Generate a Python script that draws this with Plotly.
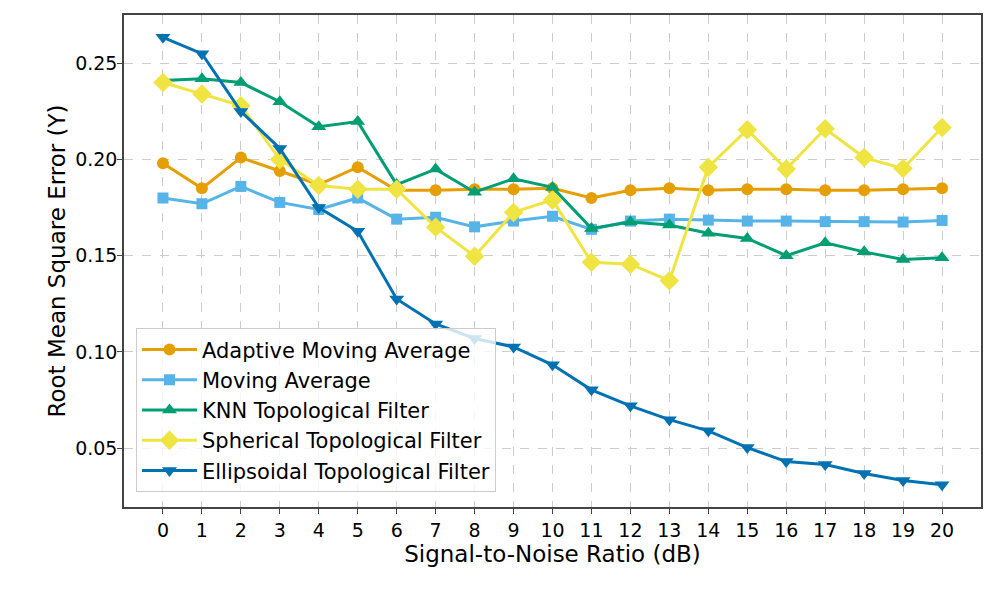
import plotly.graph_objects as go

snr = list(range(21))

adaptive_ma = [0.198, 0.185, 0.201, 0.194, 0.187, 0.196, 0.184, 0.184, 0.1845, 0.1845, 0.185,
               0.180, 0.184, 0.185, 0.184, 0.1845, 0.1845, 0.184, 0.184, 0.1845, 0.185]
moving_avg = [0.180, 0.177, 0.186, 0.1777, 0.174, 0.180, 0.169, 0.170, 0.165, 0.168, 0.1705,
              0.1637, 0.168, 0.169, 0.1685, 0.168, 0.168, 0.1677, 0.1677, 0.1675, 0.1683]
knn_filter = [0.241, 0.242, 0.240, 0.230, 0.217, 0.2197, 0.187, 0.195, 0.183, 0.190, 0.1855,
              0.1642, 0.1675, 0.166, 0.1617, 0.159, 0.150, 0.1567, 0.152, 0.148, 0.149]
spherical_filter = [0.240, 0.234, 0.228, 0.200, 0.1865, 0.1845, 0.1845, 0.1648, 0.1497, 0.1725, 0.179,
                    0.1466, 0.1456, 0.137, 0.196, 0.2155, 0.195, 0.216, 0.201, 0.1953, 0.2166]
ellipsoidal_filter = [0.2635, 0.255, 0.225, 0.2057, 0.175, 0.1627, 0.1275, 0.1145, 0.107, 0.1026, 0.0933,
                      0.0803, 0.072, 0.0648, 0.059, 0.0503, 0.043, 0.0415, 0.0368, 0.0332, 0.031]

series = [
    ("Adaptive Moving Average", adaptive_ma, "#E69F00", "circle", 12),
    ("Moving Average", moving_avg, "#56B4E9", "square", 11),
    ("KNN Topological Filter", knn_filter, "#009E73", "triangle-up", 13),
    ("Spherical Topological Filter", spherical_filter, "#F0E442", "diamond", 15),
    ("Ellipsoidal Topological Filter", ellipsoidal_filter, "#0072B2", "triangle-down", 13),
]

fig = go.Figure()
for name, vals, color, sym, size in series:
    fig.add_trace(go.Scatter(
        x=snr, y=vals, name=name, mode="lines+markers",
        line=dict(color=color, width=3),
        marker=dict(symbol=sym, size=size, color=color, line=dict(width=0)),
    ))

font_family = "DejaVu Sans"
fig.update_layout(
    width=988, height=590,
    margin=dict(l=116, r=15, t=7, b=91),
    paper_bgcolor="white", plot_bgcolor="white",
    font=dict(family=font_family, color="black", size=19),
    showlegend=True,
    legend=dict(
        x=0.014, y=0.03, xanchor="left", yanchor="bottom",
        bgcolor="rgba(255,255,255,0.8)", bordercolor="#cccccc", borderwidth=1,
        font=dict(size=21, family=font_family),
        itemwidth=55, tracegroupgap=0,
    ),
)
fig.update_xaxes(
    range=[-1, 21], tickmode="array", tickvals=snr, ticktext=[str(v) for v in snr],
    showgrid=True, gridcolor="#cccccc", griddash="dash", gridwidth=1,
    showline=True, linecolor="#444444", linewidth=1.5, mirror=True,
    ticks="outside", ticklen=5, tickcolor="#444444",
    tickfont=dict(size=19), zeroline=False, automargin=False,
    title=dict(text="Signal-to-Noise Ratio (dB)", font=dict(size=23), standoff=1),
)
fig.update_yaxes(
    range=[0.0194, 0.2751], tickmode="array", tickvals=[0.05, 0.10, 0.15, 0.20, 0.25],
    ticktext=["0.05", "0.10", "0.15", "0.20", "0.25"],
    showgrid=True, gridcolor="#cccccc", griddash="dash", gridwidth=1,
    showline=True, linecolor="#444444", linewidth=1.5, mirror=True,
    ticks="outside", ticklen=5, tickcolor="#444444",
    tickfont=dict(size=19), zeroline=False, automargin=False,
    ticklabelstandoff=-4,
    title=dict(text="Root Mean Square Error (Y)", font=dict(size=23), standoff=3),
)

fig.write_html("out.html")
